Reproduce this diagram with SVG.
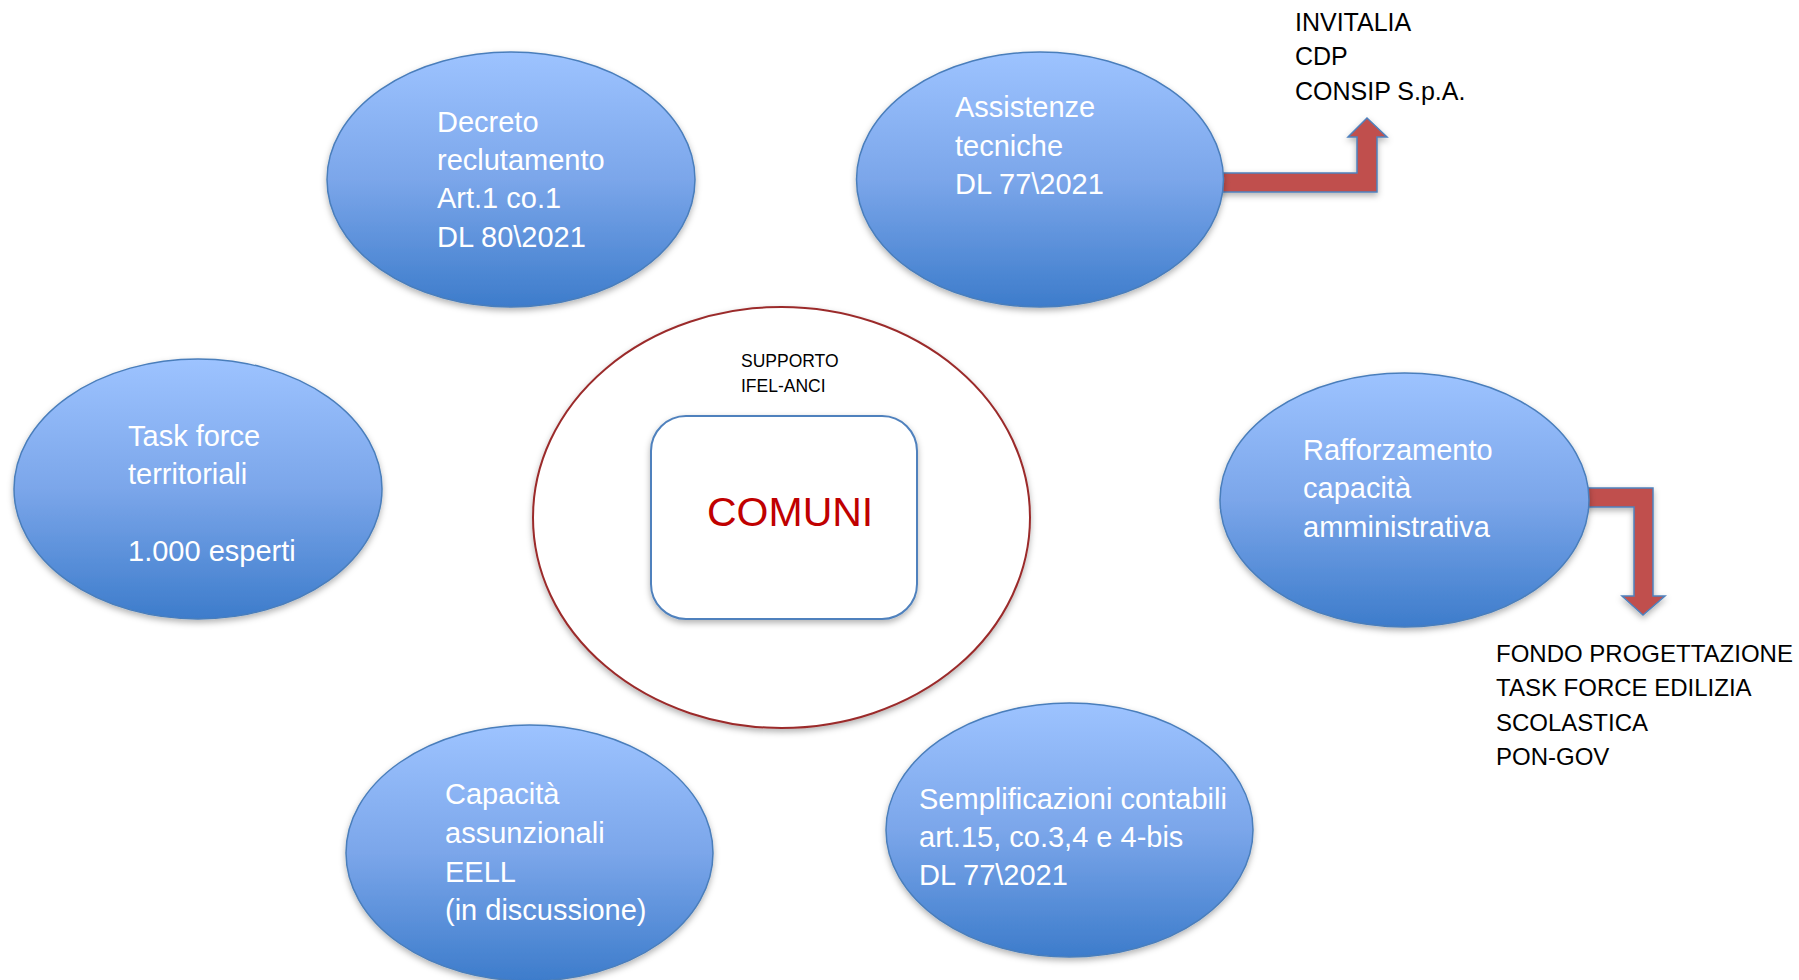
<svg xmlns="http://www.w3.org/2000/svg" width="1799" height="980" viewBox="0 0 1799 980">
<defs>
<linearGradient id="blueGrad" x1="0" y1="0" x2="0" y2="1">
<stop offset="0" stop-color="#9DC3FF"/>
<stop offset="0.5" stop-color="#7BA6EA"/>
<stop offset="1" stop-color="#3D7CCB"/>
</linearGradient>
<filter id="shadow" x="-10%" y="-10%" width="120%" height="130%">
<feDropShadow dx="0" dy="3" stdDeviation="3" flood-color="#000" flood-opacity="0.3"/>
</filter>
</defs>
<style>
.bubble{fill:url(#blueGrad);stroke:#4A7EBB;stroke-width:1.5;filter:url(#shadow)}
.btxt{font-family:"Liberation Sans",Arial,sans-serif;font-size:29px;fill:#FFFFFF}
.dtxt{font-family:"Liberation Sans",Arial,sans-serif;fill:#000000}
.arrow{fill:#C0504D;stroke:#4F81BD;stroke-width:1.5;filter:url(#shadow)}
</style>
<rect width="1799" height="980" fill="#FFFFFF"/>

<g id="connectors">
<polygon class="arrow" points="1215,192 1377,192 1377,137 1387,137 1367,118 1348,137 1357,137 1357,173 1215,173"/>
<polygon class="arrow" points="1580,507 1634,507 1634,596 1622,596 1643,615 1665,596 1653,596 1653,488 1580,488"/>
</g>

<g id="node-center">
<ellipse cx="781.5" cy="517.5" rx="248.5" ry="210.5" fill="#FFFFFF" stroke="#9B2C2C" stroke-width="2" filter="url(#shadow)"/>
<text class="dtxt" font-size="17.5" x="741" y="367">SUPPORTO</text>
<text class="dtxt" font-size="17.5" x="741" y="392">IFEL-ANCI</text>
</g>

<g id="node-comuni">
<rect x="651" y="416" width="266" height="203" rx="35" ry="35" fill="#FFFFFF" stroke="#4F81BD" stroke-width="2" filter="url(#shadow)"/>
<text x="707" y="526" font-family="Liberation Sans,Arial,sans-serif" font-size="41" fill="#C00000">COMUNI</text>
</g>

<g id="node-decreto">
<ellipse class="bubble" cx="511" cy="179.5" rx="184" ry="127.5"/>
<text class="btxt" x="437" y="132">Decreto</text>
<text class="btxt" x="437" y="170">reclutamento</text>
<text class="btxt" x="437" y="208">Art.1 co.1</text>
<text class="btxt" x="437" y="247">DL 80\2021</text>
</g>

<g id="node-assistenze">
<ellipse class="bubble" cx="1040" cy="179.5" rx="183.5" ry="127.5"/>
<text class="btxt" x="955" y="117">Assistenze</text>
<text class="btxt" x="955" y="156">tecniche</text>
<text class="btxt" x="955" y="194">DL 77\2021</text>
</g>

<g id="node-taskforce">
<ellipse class="bubble" cx="198" cy="489" rx="184" ry="130"/>
<text class="btxt" x="128" y="446">Task force</text>
<text class="btxt" x="128" y="484">territoriali</text>
<text class="btxt" x="128" y="561">1.000 esperti</text>
</g>

<g id="node-rafforzamento">
<ellipse class="bubble" cx="1404.5" cy="500" rx="184.5" ry="127"/>
<text class="btxt" x="1303" y="460">Rafforzamento</text>
<text class="btxt" x="1303" y="498">capacità</text>
<text class="btxt" x="1303" y="537">amministrativa</text>
</g>

<g id="node-capacita">
<ellipse class="bubble" cx="529.5" cy="853" rx="183.5" ry="128"/>
<text class="btxt" x="445" y="804">Capacità</text>
<text class="btxt" x="445" y="843">assunzionali</text>
<text class="btxt" x="445" y="882">EELL</text>
<text class="btxt" x="445" y="920">(in discussione)</text>
</g>

<g id="node-semplificazioni">
<ellipse class="bubble" cx="1069.5" cy="830" rx="183.5" ry="127"/>
<text class="btxt" x="919" y="809">Semplificazioni contabili</text>
<text class="btxt" x="919" y="847">art.15, co.3,4 e 4-bis</text>
<text class="btxt" x="919" y="885">DL 77\2021</text>
</g>

<g id="label-top">
<text class="dtxt" font-size="25" x="1295" y="31">INVITALIA</text>
<text class="dtxt" font-size="25" x="1295" y="65">CDP</text>
<text class="dtxt" font-size="25" x="1295" y="100">CONSIP S.p.A.</text>
</g>

<g id="label-right">
<text class="dtxt" font-size="24" x="1496" y="662">FONDO PROGETTAZIONE</text>
<text class="dtxt" font-size="24" x="1496" y="696">TASK FORCE EDILIZIA</text>
<text class="dtxt" font-size="24" x="1496" y="731">SCOLASTICA</text>
<text class="dtxt" font-size="24" x="1496" y="765">PON-GOV</text>
</g>
</svg>
